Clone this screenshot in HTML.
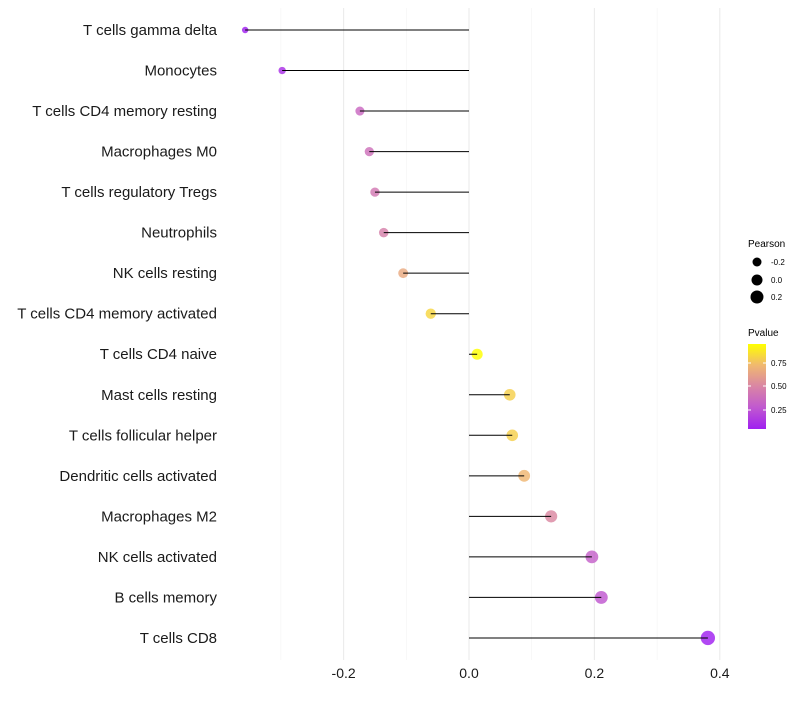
<!DOCTYPE html>
<html><head><meta charset="utf-8">
<style>
body{margin:0;background:#fff;font-family:"Liberation Sans",sans-serif;}
svg text{font-family:"Liberation Sans",sans-serif;}
</style></head>
<body>
<svg id="chart" width="800" height="700" xmlns="http://www.w3.org/2000/svg">
<defs>
<linearGradient id="pg" x1="0" y1="1" x2="0" y2="0">
<stop offset="0" stop-color="#A020F0"/>
<stop offset="0.25" stop-color="#C058D0"/>
<stop offset="0.5" stop-color="#D985A5"/>
<stop offset="0.75" stop-color="#F0B870"/>
<stop offset="1" stop-color="#FFFF00"/>
</linearGradient>
</defs>
<g id="grid"></g>
<g id="points"></g>
<g id="stems"></g>
<g id="axes"></g>
<g>
<text x="748" y="247" font-size="10" fill="#000">Pearson</text>
<circle cx="757" cy="262" r="4.5" fill="#000"/>
<text x="771" y="265" font-size="8" fill="#000">-0.2</text>
<circle cx="757" cy="280" r="5.5" fill="#000"/>
<text x="771" y="283" font-size="8" fill="#000">0.0</text>
<circle cx="757" cy="297" r="6.5" fill="#000"/>
<text x="771" y="300" font-size="8" fill="#000">0.2</text>
<text x="748" y="336" font-size="10" fill="#000">Pvalue</text>
<rect x="748" y="344" width="18" height="85" fill="url(#pg)"/>
<line x1="748" x2="751" y1="363" y2="363" stroke="#fff"/><line x1="763" x2="766" y1="363" y2="363" stroke="#fff"/>
<line x1="748" x2="751" y1="386" y2="386" stroke="#fff"/><line x1="763" x2="766" y1="386" y2="386" stroke="#fff"/>
<line x1="748" x2="751" y1="410" y2="410" stroke="#fff"/><line x1="763" x2="766" y1="410" y2="410" stroke="#fff"/>
<text x="771" y="366" font-size="8" fill="#000">0.75</text>
<text x="771" y="389" font-size="8" fill="#000">0.50</text>
<text x="771" y="413" font-size="8" fill="#000">0.25</text>
</g>
</svg>
<script>
const cells=["T cells gamma delta","Monocytes","T cells CD4 memory resting","Macrophages M0","T cells regulatory  Tregs ","Neutrophils","NK cells resting","T cells CD4 memory activated","T cells CD4 naive","Mast cells resting","T cells follicular helper","Dendritic cells activated","Macrophages M2","NK cells activated","B cells memory","T cells CD8"];
const pearson=[-0.357,-0.298,-0.174,-0.159,-0.150,-0.136,-0.105,-0.061,0.013,0.065,0.069,0.088,0.131,0.196,0.211,0.381];
const pvalue=[0.06,0.12,0.36,0.4,0.44,0.48,0.66,0.82,0.97,0.8,0.8,0.72,0.52,0.32,0.28,0.04];
const xTicks=[-0.2,0.0,0.2,0.4];
const xTickLabels=["-0.2","0.0","0.2","0.4"];
const NS="http://www.w3.org/2000/svg";
const x=v=>469+v*627;
const y=i=>30+i*40.53;
const rad=v=>Math.sqrt(Math.max(4,30+55*v));
const stops=[[160,32,240],[192,88,208],[217,133,165],[240,184,112],[255,255,0]];
function col(p){const t=Math.max(0,Math.min(1,(p-0.06)/0.89))*4;
 const k=Math.min(3,Math.floor(t)),f=t-k,a=stops[k],b=stops[k+1];
 const c=a.map((v,j)=>Math.round(v+(b[j]-v)*f));
 return `rgb(${c[0]},${c[1]},${c[2]})`;}
function mk(tag,attrs,parent){const e=document.createElementNS(NS,tag);for(const k in attrs)e.setAttribute(k,attrs[k]);parent.appendChild(e);return e;}
const grid=document.getElementById('grid'),points=document.getElementById('points'),stems=document.getElementById('stems'),axes=document.getElementById('axes');
[-0.3,-0.1,0.1,0.3].forEach(v=>{const l=mk('line',{x1:x(v),x2:x(v),y1:8,y2:660,stroke:'#f4f4f4','stroke-width':0.6},grid);

});
xTicks.forEach((v,i)=>{const l=mk('line',{x1:x(v),x2:x(v),y1:8,y2:660,stroke:'#ebebeb','stroke-width':1.1},grid);


const t=mk('text',{x:x(v),y:678,'font-size':14,'text-anchor':'middle',fill:'#1a1a1a'},axes);t.textContent=xTickLabels[i];

});
cells.forEach((c,i)=>{
const t=mk('text',{x:217,y:y(i)+5,'font-size':15,'text-anchor':'end',fill:'#1a1a1a','xml:space':'preserve'},axes);t.textContent=c;


const ci=mk('circle',{cx:x(pearson[i]),cy:y(i),r:rad(pearson[i]),fill:col(pvalue[i]),'fill-opacity':0.82},points);


const ln=mk('line',{x1:x(0),x2:x(pearson[i]),y1:y(i),y2:y(i),stroke:'#000','stroke-width':1},stems);

});
</script>
</body></html>
